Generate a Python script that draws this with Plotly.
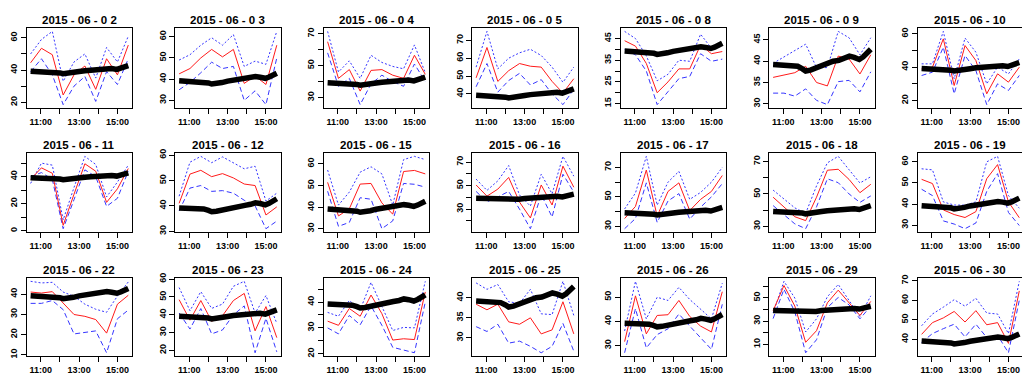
import plotly.graph_objects as go

# ---------------- data ----------------
times = ["10:28", "11:02", "11:36", "12:10", "12:44", "13:18", "13:52", "14:26", "15:00", "15:34"]

base_times = ["10:28", "10:45", "11:00", "11:15", "11:30", "11:45", "12:00", "12:10", "12:25",
              "12:42", "13:00", "13:18", "13:36", "13:54", "14:12", "14:27", "14:42", "14:58",
              "15:10", "15:22", "15:34"]
base_vals = [39.2, 39.1, 39.0, 39.0, 39.0, 38.8, 38.2, 37.7, 37.9, 38.4, 39.1, 39.6, 40.0, 40.2,
             40.6, 41.2, 40.9, 40.4, 41.0, 41.8, 42.8]

x_tick_vals = ["11:00", "12:00", "13:00", "14:00", "15:00"]
x_tick_text = ["11:00", "", "13:00", "", "15:00"]

dates = ["2015 - 06 - 0 2", "2015 - 06 - 0 3", "2015 - 06 - 0 4", "2015 - 06 - 0 5",
         "2015 - 06 - 0 8", "2015 - 06 - 0 9", "2015 - 06 - 10",
         "2015 - 06 - 11", "2015 - 06 - 12", "2015 - 06 - 15", "2015 - 06 - 16",
         "2015 - 06 - 17", "2015 - 06 - 18", "2015 - 06 - 19",
         "2015 - 06 - 22", "2015 - 06 - 23", "2015 - 06 - 24", "2015 - 06 - 25",
         "2015 - 06 - 26", "2015 - 06 - 29", "2015 - 06 - 30"]

red_0602 = [44.5, 53.5, 49.5, 24.5, 37, 42.5, 28, 47, 37, 55.5]
hi_0602 = [50, 59, 64, 33, 45, 50, 35, 54, 45, 61]
lo_0602 = [39, 47, 37, 18.5, 30, 36, 20.5, 39, 31, 47]
yt_0602 = [20, 30, 40, 50, 60]
yl_0602 = [20, 40, 60]

red_0603 = [42.5, 45, 50, 54, 50.5, 54, 38, 41.5, 37.5, 56]
hi_0603 = [49, 51.5, 56, 59.5, 56, 61, 46, 48.5, 47, 62.5]
lo_0603 = [35, 38.5, 43, 48, 45, 46, 30, 34.5, 28, 50]
yt_0603 = [30, 40, 50, 60]
yl_0603 = [30, 40, 50, 60]

red_0604 = [65, 42, 47.5, 34, 47, 47.5, 44, 42, 56.5, 44.5]
hi_0604 = [71.5, 46, 53, 42, 56.5, 52, 49.5, 48, 63, 45.5]
lo_0604 = [58, 37, 42, 25.5, 38.5, 44, 40, 37, 51, 40]
yt_0604 = [30, 40, 50, 60, 70]
yl_0604 = [30, 50, 70]

red_0605 = [49, 66, 47, 53, 57, 55.5, 55, 47, 40.5, 48.5]
hi_0605 = [55, 75, 54, 60, 63, 65, 61.5, 55, 46.5, 55]
lo_0605 = [44, 57, 41, 47.5, 51.5, 45, 48, 40, 34, 42.5]
yt_0605 = [40, 50, 60, 70]
yl_0605 = [40, 50, 60, 70]

red_0608 = [44, 41.5, 33.5, 20, 25, 31, 31, 42, 38, 39]
hi_0608 = [48.3, 45, 37, 25.5, 28.5, 35, 34.5, 47, 40.5, 41.5]
lo_0608 = [40, 37.5, 30, 14.5, 20.5, 26.5, 27.5, 38, 34.5, 35.5]
yt_0608 = [15, 20, 25, 30, 35, 40, 45]
yl_0608 = [15, 25, 35, 45]

red_0609 = [36.2, 36.7, 37.3, 38.8, 35, 34.2, 41.2, 40.5, 37, 41.5]
hi_0609 = [39.5, 41, 42.5, 44, 38.5, 38.5, 47, 45.5, 41.5, 45.5]
lo_0609 = [32.5, 32.5, 31.8, 33.5, 30.8, 29.8, 35.2, 35.5, 32.8, 37.5]
yt_0609 = [30, 35, 40, 45]
yl_0609 = [30, 35, 40, 45]

red_0610 = [39, 40, 57, 29, 53, 44, 24, 36, 31, 40]
hi_0610 = [42, 42, 61.5, 33, 57.5, 49, 30, 40, 36, 45]
lo_0610 = [35, 37, 52, 24, 47, 38, 17.5, 30, 26, 35]
yt_0610 = [20, 30, 40, 50, 60]
yl_0610 = [20, 40, 60]

red_0611 = [38, 46.5, 42.5, 4, 27, 49.5, 44, 21, 31, 46]
hi_0611 = [35, 50, 48.5, 8, 32, 55, 49, 25, 36, 48.5]
lo_0611 = [40, 43, 38, 1.5, 23, 45, 40, 18, 24, 44]
yt_0611 = [0, 10, 20, 30, 40, 50]
yl_0611 = [0, 20, 40]

red_0612 = [41, 52.5, 54, 51.5, 52.7, 51, 48.6, 48, 36.4, 39.6]
hi_0612 = [43.8, 57.2, 59.5, 57, 59.3, 57, 54.6, 55.6, 41.9, 45]
lo_0612 = [38, 47, 48, 45.7, 46, 45, 42.2, 40, 31, 34]
yt_0612 = [30, 40, 50, 60]
yl_0612 = [30, 40, 50, 60]

red_0615 = [51.5, 36, 39.3, 50.7, 51, 42, 36.8, 56.5, 57, 55.4]
hi_0615 = [57.2, 41, 47, 56.2, 58.7, 55.4, 41, 62, 63.5, 62]
lo_0615 = [47.4, 31.2, 33, 44.4, 43.7, 30.1, 33.7, 51, 50.6, 49.3]
yt_0615 = [30, 40, 50, 60]
yl_0615 = [30, 40, 50, 60]

red_0616 = [50.5, 41, 47, 56.9, 36, 22.5, 50.5, 33.5, 66.5, 48.6]
hi_0616 = [55.5, 45.9, 54, 67, 42, 32.6, 59.6, 43, 74.8, 58]
lo_0616 = [45, 36.2, 40.4, 45, 30, 13.4, 42.3, 23.3, 59.6, 44.5]
yt_0616 = [10, 20, 30, 40, 50, 60, 70]
yl_0616 = [10, 30, 50, 70]

red_0617 = [35.3, 43.5, 68.2, 37, 53.7, 59.5, 40.7, 48.3, 53.7, 64.5]
hi_0617 = [41.8, 52.6, 77.5, 44.4, 60, 67.3, 48.3, 53, 60, 70]
lo_0617 = [28.4, 35.3, 59.5, 32.7, 47.2, 52.2, 34.9, 43, 50, 59]
yt_0617 = [30, 40, 50, 60, 70]
yl_0617 = [30, 50, 70]

red_0618 = [48, 42, 35.9, 33.5, 48, 64.7, 65.3, 59, 50.8, 56]
hi_0618 = [52.4, 47, 41.4, 38, 55, 69.3, 73.3, 65, 56.8, 60.7]
lo_0618 = [42.8, 37, 31.5, 28.5, 42, 59.4, 57, 50, 44.8, 48.8]
yt_0618 = [30, 40, 50, 60, 70]
yl_0618 = [30, 50, 70]

red_0619 = [51.7, 49.7, 37.2, 35, 33.6, 36.4, 52, 58.7, 41, 33.5]
hi_0619 = [56.7, 56.2, 41, 39.5, 39.5, 41, 60, 62.6, 44, 38]
lo_0619 = [47, 44, 32, 30.5, 28.3, 31, 46, 54.4, 36, 29.8]
yt_0619 = [30, 40, 50, 60]
yl_0619 = [30, 40, 50, 60]

red_0622 = [41, 40.5, 41.2, 35.7, 29.9, 29, 27.4, 20.7, 35, 39.4]
hi_0622 = [46.3, 45.5, 45.8, 41, 38.9, 35, 32.5, 31, 39, 46]
lo_0622 = [35.4, 35.4, 36.8, 32.3, 20.3, 20.9, 21.8, 11, 27.8, 32.1]
yt_0622 = [10, 20, 30, 40]
yl_0622 = [10, 20, 30, 40]

red_0623 = [48.5, 37, 48, 36.4, 39.5, 48, 52, 31, 44.6, 27.2]
hi_0623 = [55.3, 42.3, 53, 43.6, 46, 56, 58.8, 41, 50.8, 35.2]
lo_0623 = [41, 32, 43.5, 29.3, 31.5, 40, 45, 18.7, 38, 19.2]
yt_0623 = [20, 30, 40, 50, 60]
yl_0623 = [20, 30, 40, 50, 60]

red_0624 = [32.6, 31, 37.5, 34.5, 42.7, 35.5, 25.3, 25.8, 25.5, 43.9]
hi_0624 = [36, 34.5, 40.6, 37, 47.6, 38, 29, 30.2, 30, 48]
lo_0624 = [30, 27.7, 34.8, 31.2, 38.5, 31, 22.5, 21.4, 20.4, 40]
yt_0624 = [20, 25, 30, 35, 40, 45]
yl_0624 = [20, 30, 40]

red_0625 = [38.4, 37, 38.4, 34, 33.4, 35, 31, 32, 39, 31]
hi_0625 = [43.7, 42.1, 43.3, 39, 38.6, 42.1, 36, 35.8, 44.1, 35.6]
lo_0625 = [32.8, 31.6, 33.4, 28.7, 29.2, 27.9, 26.3, 27.9, 33.6, 26.7]
yt_0625 = [30, 35, 40]
yl_0625 = [30, 35, 40]

red_0626 = [31.6, 50.5, 34.8, 42.4, 42.7, 48.6, 42, 38, 35.6, 52.2]
hi_0626 = [36, 56.5, 41, 49.9, 48.6, 54, 49, 45, 41, 55.7]
lo_0626 = [27, 45.2, 29, 34.5, 36.9, 43, 38, 33, 28.4, 47]
yt_0626 = [30, 40, 50]
yl_0626 = [30, 40, 50]

red_0629 = [39, 60.7, 43, 11.8, 21.8, 45.8, 56.7, 46, 34.9, 47]
hi_0629 = [37, 64.3, 49.9, 20.7, 32, 51, 61.6, 48, 34, 51.8]
lo_0629 = [32.2, 57.5, 38, 2.8, 14, 41.7, 50.4, 44, 32, 43]
yt_0629 = [10, 20, 30, 40, 50, 60]
yl_0629 = [10, 30, 50]

red_0630 = [42.6, 48.6, 51, 54.3, 48.9, 54.7, 47.5, 48.6, 38, 64.8]
hi_0630 = [47, 53, 56.5, 60.3, 57, 61, 53.5, 53, 43, 69.7]
lo_0630 = [38.5, 43, 45.5, 47.8, 41.3, 47.8, 41, 42.1, 33.2, 60]
yt_0630 = [40, 50, 60, 70]
yl_0630 = [40, 50, 60, 70]

panels = [
    (red_0602, hi_0602, lo_0602, yt_0602, yl_0602),
    (red_0603, hi_0603, lo_0603, yt_0603, yl_0603),
    (red_0604, hi_0604, lo_0604, yt_0604, yl_0604),
    (red_0605, hi_0605, lo_0605, yt_0605, yl_0605),
    (red_0608, hi_0608, lo_0608, yt_0608, yl_0608),
    (red_0609, hi_0609, lo_0609, yt_0609, yl_0609),
    (red_0610, hi_0610, lo_0610, yt_0610, yl_0610),
    (red_0611, hi_0611, lo_0611, yt_0611, yl_0611),
    (red_0612, hi_0612, lo_0612, yt_0612, yl_0612),
    (red_0615, hi_0615, lo_0615, yt_0615, yl_0615),
    (red_0616, hi_0616, lo_0616, yt_0616, yl_0616),
    (red_0617, hi_0617, lo_0617, yt_0617, yl_0617),
    (red_0618, hi_0618, lo_0618, yt_0618, yl_0618),
    (red_0619, hi_0619, lo_0619, yt_0619, yl_0619),
    (red_0622, hi_0622, lo_0622, yt_0622, yl_0622),
    (red_0623, hi_0623, lo_0623, yt_0623, yl_0623),
    (red_0624, hi_0624, lo_0624, yt_0624, yl_0624),
    (red_0625, hi_0625, lo_0625, yt_0625, yl_0625),
    (red_0626, hi_0626, lo_0626, yt_0626, yl_0626),
    (red_0629, hi_0629, lo_0629, yt_0629, yl_0629),
    (red_0630, hi_0630, lo_0630, yt_0630, yl_0630),
]

# ---------------- helpers ----------------
def to_hours(s):
    h, m = s.split(":")
    return int(h) + int(m) / 60.0

xt = [to_hours(s) for s in times]
bx = [to_hours(s) for s in base_times]
xtv = [to_hours(s) for s in x_tick_vals]

W, H = 1022, 384
NCOL = 7
FONT = "Liberation Sans, Arial, sans-serif"
BLUE = "#3535ff"
RED = "#ff1a1a"

fig = go.Figure()
layout = dict(
    width=W, height=H,
    margin=dict(l=0, r=0, t=0, b=0),
    paper_bgcolor="white", plot_bgcolor="white",
    showlegend=False,
    font=dict(family=FONT, color="black"),
)
annotations = []

xmin, xmax = min(xt + bx), max(xt + bx)
xpad = 0.04 * (xmax - xmin)
x0, x1 = xmin - xpad, xmax + xpad

for i, (red, hi, lo, yt, yl) in enumerate(panels):
    r, c = divmod(i, NCOL)
    left = 26.7 + 148.5 * c
    full_right = left + 105.5
    right = full_right
    top = 23 + 128 * r
    bottom = 104 + 127 * r
    xr = [x0, x1]
    mirror_y = True
    if full_right > W:
        xr = [x0, x0 + (x1 - x0) * (W - left) / (full_right - left)]
        right = W
        mirror_y = False
    vals = red + hi + lo + base_vals
    ymn, ymx = min(vals), max(vals)
    ypad = 0.04 * (ymx - ymn)
    n = i + 1
    xa = "x" if n == 1 else f"x{n}"
    ya = "y" if n == 1 else f"y{n}"
    common = dict(showgrid=False, zeroline=False, showline=True, linecolor="black",
                  linewidth=1, ticks="outside", ticklen=5, tickwidth=1, tickcolor="black",
                  tickfont=dict(family=FONT, size=9, color="black", weight="bold"))
    layout["xaxis" if n == 1 else f"xaxis{n}"] = dict(
        domain=[left / W, right / W], range=xr, anchor=ya, mirror=True,
        tickmode="array", tickvals=xtv, ticktext=x_tick_text, ticklabelstandoff=1, **common)
    layout["yaxis" if n == 1 else f"yaxis{n}"] = dict(
        domain=[1 - bottom / H, 1 - top / H], range=[ymn - ypad, ymx + ypad], anchor=xa,
        mirror=mirror_y, tickmode="array", tickvals=yt,
        ticktext=[str(v) if v in yl else "" for v in yt], tickangle=-90, **common)

    fig.add_trace(go.Scatter(x=xt, y=hi, mode="lines", xaxis=xa, yaxis=ya,
                             line=dict(color=BLUE, width=1, dash="2px,2px")))
    fig.add_trace(go.Scatter(x=xt, y=lo, mode="lines", xaxis=xa, yaxis=ya,
                             line=dict(color=BLUE, width=1, dash="5px,3px")))
    fig.add_trace(go.Scatter(x=xt, y=red, mode="lines", xaxis=xa, yaxis=ya,
                             line=dict(color=RED, width=1)))
    fig.add_trace(go.Scatter(x=bx, y=base_vals, mode="lines", xaxis=xa, yaxis=ya,
                             line=dict(color="black", width=5.5)))

    annotations.append(dict(text=f"<b>{dates[i]}</b>", x=(left + full_right) / 2 / W,
                            y=1 - (top - 9) / H, xref="paper", yref="paper",
                            xanchor="center", yanchor="middle", showarrow=False,
                            font=dict(family=FONT, size=11.5, color="black")))

layout["annotations"] = annotations
fig.update_layout(**layout)
fig.write_html("out.html", config={"displayModeBar": False},
               post_script="document.body.style.margin='0';document.body.style.overflow='hidden';")
